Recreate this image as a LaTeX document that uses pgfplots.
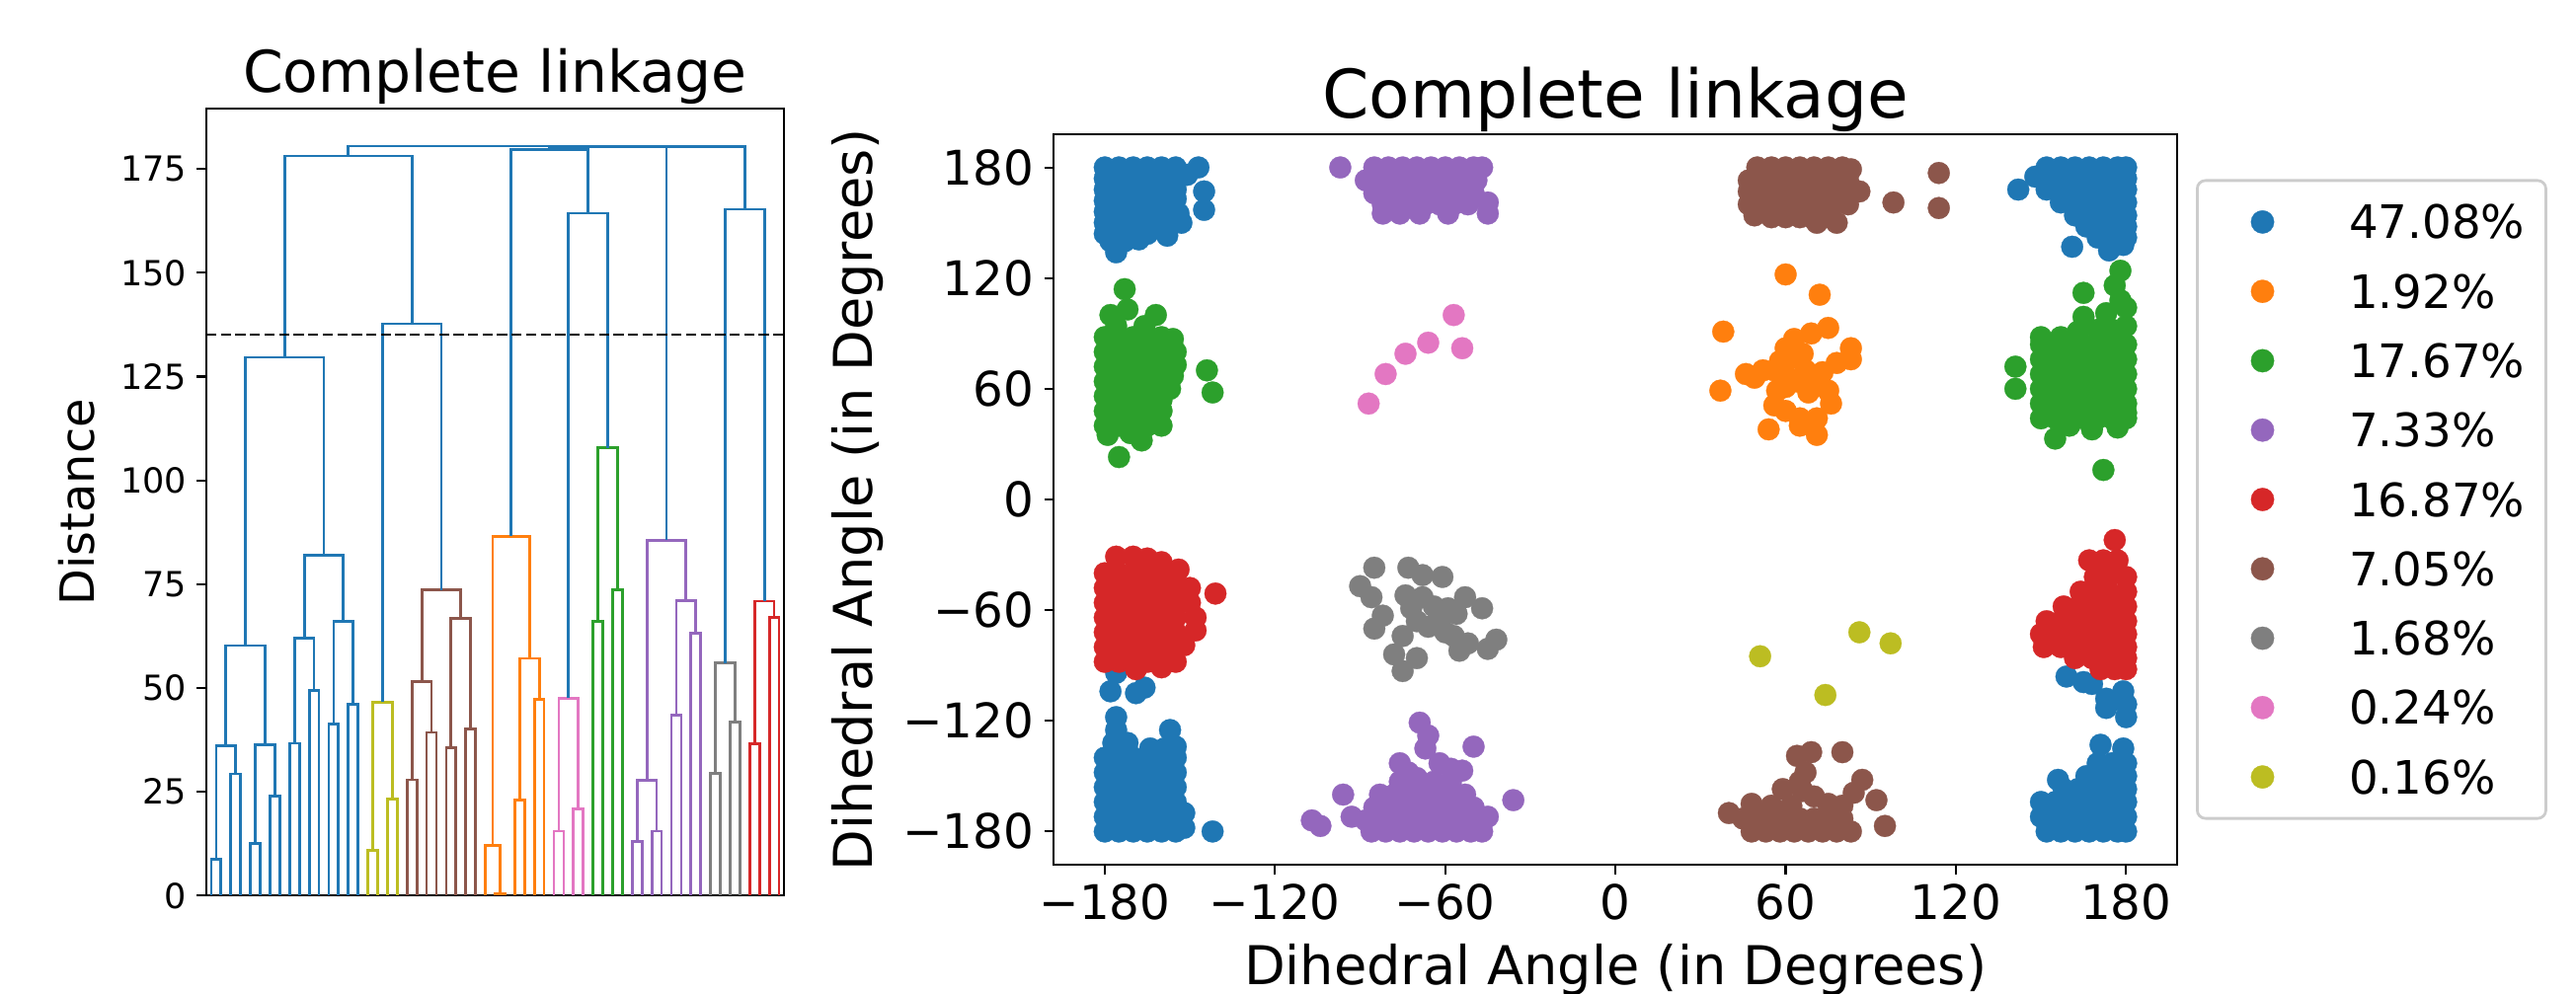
\documentclass[border=0pt]{standalone}
\usepackage{fontspec}
\setmainfont{DejaVu Sans}
\usepackage{pgfplots}
\pgfplotsset{compat=1.18}
\definecolor{tabblue}{HTML}{1F77B4}
\definecolor{taborange}{HTML}{FF7F0E}
\definecolor{tabgreen}{HTML}{2CA02C}
\definecolor{tabred}{HTML}{D62728}
\definecolor{tabpurple}{HTML}{9467BD}
\definecolor{tabbrown}{HTML}{8C564B}
\definecolor{tabpink}{HTML}{E377C2}
\definecolor{tabgray}{HTML}{7F7F7F}
\definecolor{tabolive}{HTML}{BCBD22}
\definecolor{legedge}{HTML}{CCCCCC}
\pgfplotsset{
  dend/.style={line width=1pt, mark=none},
  pts/.style={only marks, mark=*, mark size=4pt, line width=0.1pt},
}
\begin{document}
\begin{tikzpicture}
\useasboundingbox (0,0) rectangle (939.24pt,362.16pt);
% ---------------- dendrogram ----------------
\begin{axis}[
  at={(75.24pt,35.53pt)}, anchor=south west,
  width=210.6pt, height=287.0pt, scale only axis,
  xmin=0, xmax=590, ymin=0, ymax=189.5,
  xtick=\empty, ytick={0,25,50,75,100,125,150,175},
  tick pos=left,
  tick align=outside, major tick length=3.5pt,
  axis line style={line width=0.8pt},
  tick style={black, line width=0.8pt},
  y tick label style={font=\fontsize{12.6}{14}\selectfont, inner sep=0pt, xshift=-3.5pt},
  /pgf/number format/assume math mode=true,
  ylabel={Distance},
  ylabel style={font=\fontsize{17.2}{20}\selectfont, at={(axis description cs:-0.1947,0.5)}, anchor=base},
  title={Complete linkage},
  title style={font=\fontsize{21}{24}\selectfont, at={(axis description cs:0.5,1)}, anchor=base},
]
% blue cluster (leaves 0-15)
\addplot[dend, tabblue] coordinates {(5,0)(5,8.7)(15,8.7)(15,0)};
\addplot[dend, tabblue] coordinates {(25,0)(25,29.3)(35,29.3)(35,0)};
\addplot[dend, tabblue] coordinates {(10,8.7)(10,36.0)(30,36.0)(30,29.3)};
\addplot[dend, tabblue] coordinates {(45,0)(45,12.6)(55,12.6)(55,0)};
\addplot[dend, tabblue] coordinates {(65,0)(65,24.0)(75,24.0)(75,0)};
\addplot[dend, tabblue] coordinates {(50,12.6)(50,36.4)(70,36.4)(70,24.0)};
\addplot[dend, tabblue] coordinates {(20,36.0)(20,60.2)(60,60.2)(60,36.4)};
\addplot[dend, tabblue] coordinates {(85,0)(85,36.7)(95,36.7)(95,0)};
\addplot[dend, tabblue] coordinates {(105,0)(105,49.4)(115,49.4)(115,0)};
\addplot[dend, tabblue] coordinates {(90,36.7)(90,62.0)(110,62.0)(110,49.4)};
\addplot[dend, tabblue] coordinates {(125,0)(125,41.3)(135,41.3)(135,0)};
\addplot[dend, tabblue] coordinates {(145,0)(145,46.0)(155,46.0)(155,0)};
\addplot[dend, tabblue] coordinates {(130,41.3)(130,66.0)(150,66.0)(150,46.0)};
\addplot[dend, tabblue] coordinates {(100,62.0)(100,82.0)(140,82.0)(140,66.0)};
\addplot[dend, tabblue] coordinates {(40,60.2)(40,129.6)(120,129.6)(120,82.0)};
% olive (16-19)
\addplot[dend, tabolive] coordinates {(165,0)(165,10.9)(175,10.9)(175,0)};
\addplot[dend, tabolive] coordinates {(185,0)(185,23.2)(195,23.2)(195,0)};
\addplot[dend, tabolive] coordinates {(170,10.9)(170,46.6)(190,46.6)(190,23.2)};
% brown (20-27)
\addplot[dend, tabbrown] coordinates {(205,0)(205,27.9)(215,27.9)(215,0)};
\addplot[dend, tabbrown] coordinates {(225,0)(225,39.3)(235,39.3)(235,0)};
\addplot[dend, tabbrown] coordinates {(210,27.9)(210,51.5)(230,51.5)(230,39.3)};
\addplot[dend, tabbrown] coordinates {(245,0)(245,35.7)(255,35.7)(255,0)};
\addplot[dend, tabbrown] coordinates {(265,0)(265,40.1)(275,40.1)(275,0)};
\addplot[dend, tabbrown] coordinates {(250,35.7)(250,66.8)(270,66.8)(270,40.1)};
\addplot[dend, tabbrown] coordinates {(220,51.5)(220,73.6)(260,73.6)(260,66.8)};
\addplot[dend, tabblue] coordinates {(180,46.6)(180,137.7)(240,137.7)(240,73.6)};
\addplot[dend, tabblue] coordinates {(80,129.6)(80,178.1)(210,178.1)(210,137.7)};
% orange (28-34)
\addplot[dend, taborange] coordinates {(295,0)(295,0.4)(305,0.4)(305,0)};
\addplot[dend, taborange] coordinates {(285,0)(285,12.1)(300,12.1)(300,0.4)};
\addplot[dend, taborange] coordinates {(315,0)(315,23.0)(325,23.0)(325,0)};
\addplot[dend, taborange] coordinates {(335,0)(335,47.2)(345,47.2)(345,0)};
\addplot[dend, taborange] coordinates {(320,23.0)(320,57.1)(340,57.1)(340,47.2)};
\addplot[dend, taborange] coordinates {(292.5,12.1)(292.5,86.5)(330,86.5)(330,57.1)};
% pink (35-38)
\addplot[dend, tabpink] coordinates {(355,0)(355,15.5)(365,15.5)(365,0)};
\addplot[dend, tabpink] coordinates {(375,0)(375,20.9)(385,20.9)(385,0)};
\addplot[dend, tabpink] coordinates {(360,15.5)(360,47.5)(380,47.5)(380,20.9)};
% green (39-42)
\addplot[dend, tabgreen] coordinates {(395,0)(395,66.0)(405,66.0)(405,0)};
\addplot[dend, tabgreen] coordinates {(415,0)(415,73.7)(425,73.7)(425,0)};
\addplot[dend, tabgreen] coordinates {(400,66.0)(400,107.8)(420,107.8)(420,73.7)};
\addplot[dend, tabblue] coordinates {(370,47.5)(370,164.3)(410,164.3)(410,107.8)};
% purple (43-50)
\addplot[dend, tabpurple] coordinates {(435,0)(435,13.1)(445,13.1)(445,0)};
\addplot[dend, tabpurple] coordinates {(455,0)(455,15.5)(465,15.5)(465,0)};
\addplot[dend, tabpurple] coordinates {(440,13.1)(440,27.8)(460,27.8)(460,15.5)};
\addplot[dend, tabpurple] coordinates {(475,0)(475,43.4)(485,43.4)(485,0)};
\addplot[dend, tabpurple] coordinates {(495,0)(495,63.1)(505,63.1)(505,0)};
\addplot[dend, tabpurple] coordinates {(480,43.4)(480,71.0)(500,71.0)(500,63.1)};
\addplot[dend, tabpurple] coordinates {(450,27.8)(450,85.6)(490,85.6)(490,71.0)};
% gray (51-54)
\addplot[dend, tabgray] coordinates {(515,0)(515,29.4)(525,29.4)(525,0)};
\addplot[dend, tabgray] coordinates {(535,0)(535,41.8)(545,41.8)(545,0)};
\addplot[dend, tabgray] coordinates {(520,29.4)(520,56.0)(540,56.0)(540,41.8)};
% red (55-58)
\addplot[dend, tabred] coordinates {(555,0)(555,36.5)(565,36.5)(565,0)};
\addplot[dend, tabred] coordinates {(575,0)(575,66.9)(585,66.9)(585,0)};
\addplot[dend, tabred] coordinates {(560,36.5)(560,70.9)(580,70.9)(580,66.9)};
\addplot[dend, tabblue] coordinates {(530,56.0)(530,165.3)(570,165.3)(570,70.9)};
% top merges
\addplot[dend, tabblue] coordinates {(311.25,86.5)(311.25,179.6)(390,179.6)(390,164.3)};
\addplot[dend, tabblue] coordinates {(470,85.6)(470,180.3)(550,180.3)(550,165.3)};
\addplot[dend, tabblue] coordinates {(350.6,179.6)(350.6,180.4)(510,180.4)(510,180.3)};
\addplot[dend, tabblue] coordinates {(145,178.1)(145,180.5)(430.3,180.5)(430.3,180.4)};
% threshold
\addplot[black, line width=0.8pt, dash pattern=on 3.7pt off 1.6pt] coordinates {(0,135)(590,135)};
\end{axis}
% ---------------- scatter ----------------
\begin{axis}[
  at={(384.2pt,46.8pt)}, anchor=south west,
  width=409.6pt, height=266.4pt, scale only axis,
  xmin=-198, xmax=198, ymin=-198, ymax=198,
  xtick={-180,-120,-60,0,60,120,180},
  xticklabels={−180,−120,−60,0,60,120,180},
  ytick={-180,-120,-60,0,60,120,180},
  yticklabels={−180,−120,−60,0,60,120,180},
  tick pos=left,
  tick align=outside, major tick length=3.5pt,
  axis line style={line width=0.8pt},
  tick style={black, line width=0.8pt},
  tick label style={font=\fontsize{17.4}{20}\selectfont, inner sep=0pt},
  x tick label style={yshift=-3.5pt},
  y tick label style={xshift=-3.5pt},
  xlabel={Dihedral Angle (in Degrees)},
  ylabel={Dihedral Angle (in Degrees)},
  label style={font=\fontsize{19.5}{22}\selectfont},
  xlabel style={at={(axis description cs:0.5,-0.1648)}, anchor=base},
  ylabel style={at={(axis description cs:-0.1619,0.5)}, anchor=base},
  title={Complete linkage},
  title style={font=\fontsize{24.4}{28}\selectfont, at={(axis description cs:0.5,1)}, anchor=base},
  legend cell align=left,
  legend style={at={(axis description cs:1.0167,0.5)}, anchor=west, draw=legedge, line width=1pt, rounded corners=3pt, fill=white, inner xsep=7.2pt, inner ysep=9pt, row sep=13.05pt, font=\fontsize{16.8}{20}\selectfont, nodes={inner sep=0pt, text height=12.25pt, text depth=0pt, text width=64.5pt, align=left}},
  legend image code/.code={\path[draw=none,fill=none] (0pt,-6.125pt) (48.2pt,6.125pt); \fill[#1] (16.6pt,0pt) circle (4.2pt);},
]
% blue 47.08%
\addplot[pts, tabblue] coordinates {
(-180,180)(-175,180)(-170,180)(-165,180)(-160,180)(-155,180)(-147,180)
(-180,174)(-175,174)(-170,174)(-165,174)(-160,174)(-155,174)(-151,176)
(-180,168)(-175,168)(-170,168)(-165,168)(-160,168)(-155,168)(-145,167)
(-180,162)(-175,162)(-170,162)(-165,162)(-160,162)(-155,163)
(-180,156)(-175,156)(-170,156)(-165,156)(-160,156)(-154,155)(-145,157)
(-180,150)(-175,150)(-170,150)(-165,150)(-160,150)(-153,150)
(-180,144)(-175,144)(-170,144)(-165,144)(-158,143)
(-178,140)(-173,140)(-168,141)(-176,134)
(-176,-94)(-178,-104)(-166,-102)(-169,-105)
(-176,-118)(-176,-125)(-157,-125)
(-177,-132)(-172,-132)(-164,-135)(-159,-135)(-155,-134)
(-180,-140)(-175,-140)(-170,-140)(-165,-140)(-160,-140)(-155,-140)
(-180,-148)(-175,-148)(-170,-148)(-165,-148)(-160,-148)(-155,-148)
(-180,-156)(-175,-156)(-170,-156)(-165,-156)(-160,-156)(-155,-156)
(-180,-164)(-175,-164)(-170,-164)(-165,-164)(-160,-164)(-155,-164)
(-180,-172)(-175,-172)(-170,-172)(-165,-172)(-160,-172)(-155,-172)(-152,-170)
(-180,-180)(-175,-180)(-170,-180)(-165,-180)(-160,-180)(-155,-180)(-152,-178)
(-142,-180)
(152,180)(157,180)(162,180)(167,180)(172,180)(177,180)(180,180)
(148,175)(153,174)(158,174)(163,174)(168,174)(173,174)(178,174)(180,174)
(142,168)(152,168)(157,168)(162,168)(167,168)(172,168)(177,168)(180,168)
(157,161)(162,161)(167,161)(172,161)(177,161)(180,161)
(162,154)(167,154)(172,154)(177,154)(180,154)
(166,148)(171,148)(176,148)(180,148)
(170,142)(175,142)(180,142)
(161,137)(174,135)(179,138)
(159,-96)(168,-100)(179,-104)(173,-108)(180,-111)(173,-113)(180,-118)(165,-99)
(171,-133)(179,-135)
(170,-143)(175,-143)(180,-143)
(156,-152)(166,-150)(171,-150)(176,-150)(180,-150)
(158,-157)(163,-157)(168,-157)(173,-157)(178,-157)(180,-157)
(150,-164)(155,-164)(160,-164)(165,-164)(170,-164)(175,-164)(180,-164)
(150,-172)(155,-172)(160,-172)(165,-172)(170,-172)(175,-172)(180,-172)
(152,-180)(157,-180)(162,-180)(167,-180)(172,-180)(177,-180)(180,-180)
};
\addlegendentry{47.08\%}
% orange 1.92%
\addplot[pts, taborange] coordinates {
(60,122)(72,111)(38,91)(75,93)(83,82)(83,76)(37,59)(46,68)(49,66)
(63,87)(69,90)(56,70)(63,77)(61,66)(57,59)(67,70)(73,69)(78,74)
(75,59)(76,52)(56,51)(60,48)(65,44)(71,44)(54,38)(71,35)(65,40)
(60,61)(64,64)(70,66)(60,82)(66,79)(58,75)(52,70)(68,58)(72,62)
};
\addlegendentry{1.92\%}
% green 17.67%
\addplot[pts, tabgreen] coordinates {
(-180,40)(-175,40)(-170,40)(-165,40)(-160,40)
(-180,48)(-175,48)(-170,48)(-165,48)(-160,48)
(-180,56)(-175,56)(-170,56)(-165,56)(-160,56)
(-180,64)(-175,64)(-170,64)(-165,64)(-160,64)
(-180,72)(-175,72)(-170,72)(-165,72)(-160,72)
(-180,80)(-175,80)(-170,80)(-165,80)(-160,80)
(-180,88)(-175,88)(-170,88)(-165,88)(-160,88)
(-156,87)(-155,80)(-155,73)(-156,67)(-157,60)(-160,54)(-163,46)
(-173,114)(-172,103)(-178,100)(-162,100)(-166,94)(-176,94)
(-144,70)(-142,58)(-167,32)(-175,23)(-179,35)(-171,36)
(150,44)(155,44)(160,44)(165,44)(170,44)(175,44)(180,44)
(150,52)(155,52)(160,52)(165,52)(170,52)(175,52)(180,52)
(150,60)(155,60)(160,60)(165,60)(170,60)(175,60)(180,60)
(150,68)(155,68)(160,68)(165,68)(170,68)(175,68)(180,68)
(150,76)(155,76)(160,76)(165,76)(170,76)(175,76)(180,76)
(150,84)(155,84)(160,84)(165,84)(170,84)(175,84)(180,84)
(150,88)(157,88)(163,91)(170,92)(175,92)(180,94)(165,99)(173,101)(180,104)
(165,112)(176,116)(178,124)(178,108)(141,72)(141,60)
(155,33)(172,16)(168,38)(177,39)(160,40)(180,47)
};
\addlegendentry{17.67\%}
% purple 7.33%
\addplot[pts, tabpurple] coordinates {
(-97,180)(-85,180)(-80,180)(-75,180)(-70,180)(-65,180)(-60,180)(-55,180)(-50,180)(-47,180)
(-88,173)(-83,173)(-78,173)(-73,173)(-68,173)(-63,173)(-58,173)(-53,173)(-49,173)
(-85,166)(-80,166)(-75,166)(-70,166)(-65,166)(-60,166)(-55,166)(-50,166)
(-82,160)(-77,160)(-72,160)(-67,160)(-62,160)(-57,160)(-52,160)(-45,161)
(-82,155)(-76,155)(-69,155)(-59,155)(-45,155)
(-69,-121)(-66,-128)(-67,-135)(-50,-134)(-76,-143)(-73,-148)(-70,-151)(-62,-143)(-58,-146)(-54,-147)
(-96,-160)(-36,-163)(-107,-174)(-104,-177)(-93,-172)
(-76,-153)(-70,-153)(-64,-153)(-58,-153)
(-83,-160)(-78,-160)(-73,-160)(-68,-160)(-63,-160)(-58,-160)(-53,-160)
(-85,-167)(-80,-167)(-75,-167)(-70,-167)(-65,-167)(-60,-167)(-55,-167)(-50,-167)
(-88,-174)(-83,-174)(-78,-174)(-73,-174)(-68,-174)(-63,-174)(-58,-174)(-53,-174)(-48,-174)(-45,-172)
(-86,-180)(-81,-180)(-76,-180)(-71,-180)(-66,-180)(-61,-180)(-56,-180)(-51,-180)(-47,-180)
};
\addlegendentry{7.33\%}
% red 16.87%
\addplot[pts, tabred] coordinates {
(-176,-31)(-170,-31)(-165,-32)(-160,-34)(-154,-38)
(-180,-40)(-175,-40)(-170,-40)(-165,-40)(-160,-40)(-155,-40)
(-180,-48)(-175,-48)(-170,-48)(-165,-48)(-160,-48)(-155,-48)
(-180,-56)(-175,-56)(-170,-56)(-165,-56)(-160,-56)(-155,-56)
(-180,-64)(-175,-64)(-170,-64)(-165,-64)(-160,-64)(-155,-64)
(-180,-72)(-175,-72)(-170,-72)(-165,-72)(-160,-72)(-155,-72)
(-180,-80)(-175,-80)(-170,-80)(-165,-80)(-160,-80)(-155,-80)
(-180,-88)(-175,-88)(-170,-88)(-165,-88)(-160,-88)(-155,-88)
(-150,-48)(-150,-56)(-148,-64)(-148,-71)(-152,-79)(-141,-51)(-169,-92)(-160,-91)
(176,-22)
(167,-33)(172,-33)(177,-33)
(169,-42)(174,-42)(180,-42)
(164,-50)(169,-50)(174,-50)(180,-50)
(158,-58)(163,-58)(168,-58)(173,-58)(178,-58)(180,-58)
(152,-66)(157,-66)(162,-66)(167,-66)(172,-66)(177,-66)(180,-66)
(150,-73)(155,-73)(160,-73)(165,-73)(170,-73)(175,-73)(180,-73)
(151,-80)(157,-80)(163,-80)(168,-80)(174,-80)(180,-80)
(162,-86)(168,-86)(174,-86)(180,-86)
(171,-92)(176,-92)(180,-92)
};
\addlegendentry{16.87\%}
% brown 7.05%
\addplot[pts, tabbrown] coordinates {
(50,180)(55,180)(60,180)(65,180)(70,180)(75,180)(80,180)(83,179)
(47,173)(52,173)(57,173)(62,173)(67,173)(72,173)(77,173)(82,173)
(47,167)(52,167)(57,167)(62,167)(67,167)(72,167)(77,167)(82,167)(86,167)
(47,160)(52,160)(57,160)(62,160)(67,160)(72,160)(77,160)(82,160)
(49,154)(55,153)(60,153)(65,153)(70,152)(75,153)
(71,150)(78,150)
(98,161)(114,177)(114,158)
(69,-137)(80,-137)(64,-139)(67,-148)(65,-153)(66,-158)(87,-152)(59,-157)(84,-159)(92,-163)(95,-177)
(48,-165)(55,-166)(62,-166)(70,-161)(75,-165)(80,-166)
(40,-170)(45,-173)(50,-173)(55,-173)(60,-173)(65,-173)(70,-173)(75,-173)(80,-173)
(48,-180)(53,-180)(58,-180)(63,-180)(68,-180)(73,-180)(78,-180)(83,-180)
};
\addlegendentry{7.05\%}
% gray 1.68%
\addplot[pts, tabgray] coordinates {
(-85,-37)(-73,-37)(-68,-41)(-61,-42)(-90,-47)(-86,-53)(-74,-52)(-68,-53)(-59,-59)(-53,-53)
(-47,-59)(-82,-63)(-85,-70)(-70,-66)(-66,-69)(-57,-74)(-52,-78)(-42,-76)(-45,-81)(-75,-74)
(-78,-84)(-70,-86)(-75,-93)(-55,-82)(-60,-72)(-72,-59)(-62,-66)(-56,-62)(-64,-58)
};
\addlegendentry{1.68\%}
% pink 0.24%
\addplot[pts, tabpink] coordinates {(-57,100)(-54,82)(-66,85)(-74,79)(-81,68)(-87,52)};
\addlegendentry{0.24\%}
% olive 0.16%
\addplot[pts, tabolive] coordinates {(86,-72)(97,-78)(51,-85)(74,-106)};
\addlegendentry{0.16\%}
\end{axis}
\end{tikzpicture}
\end{document}
